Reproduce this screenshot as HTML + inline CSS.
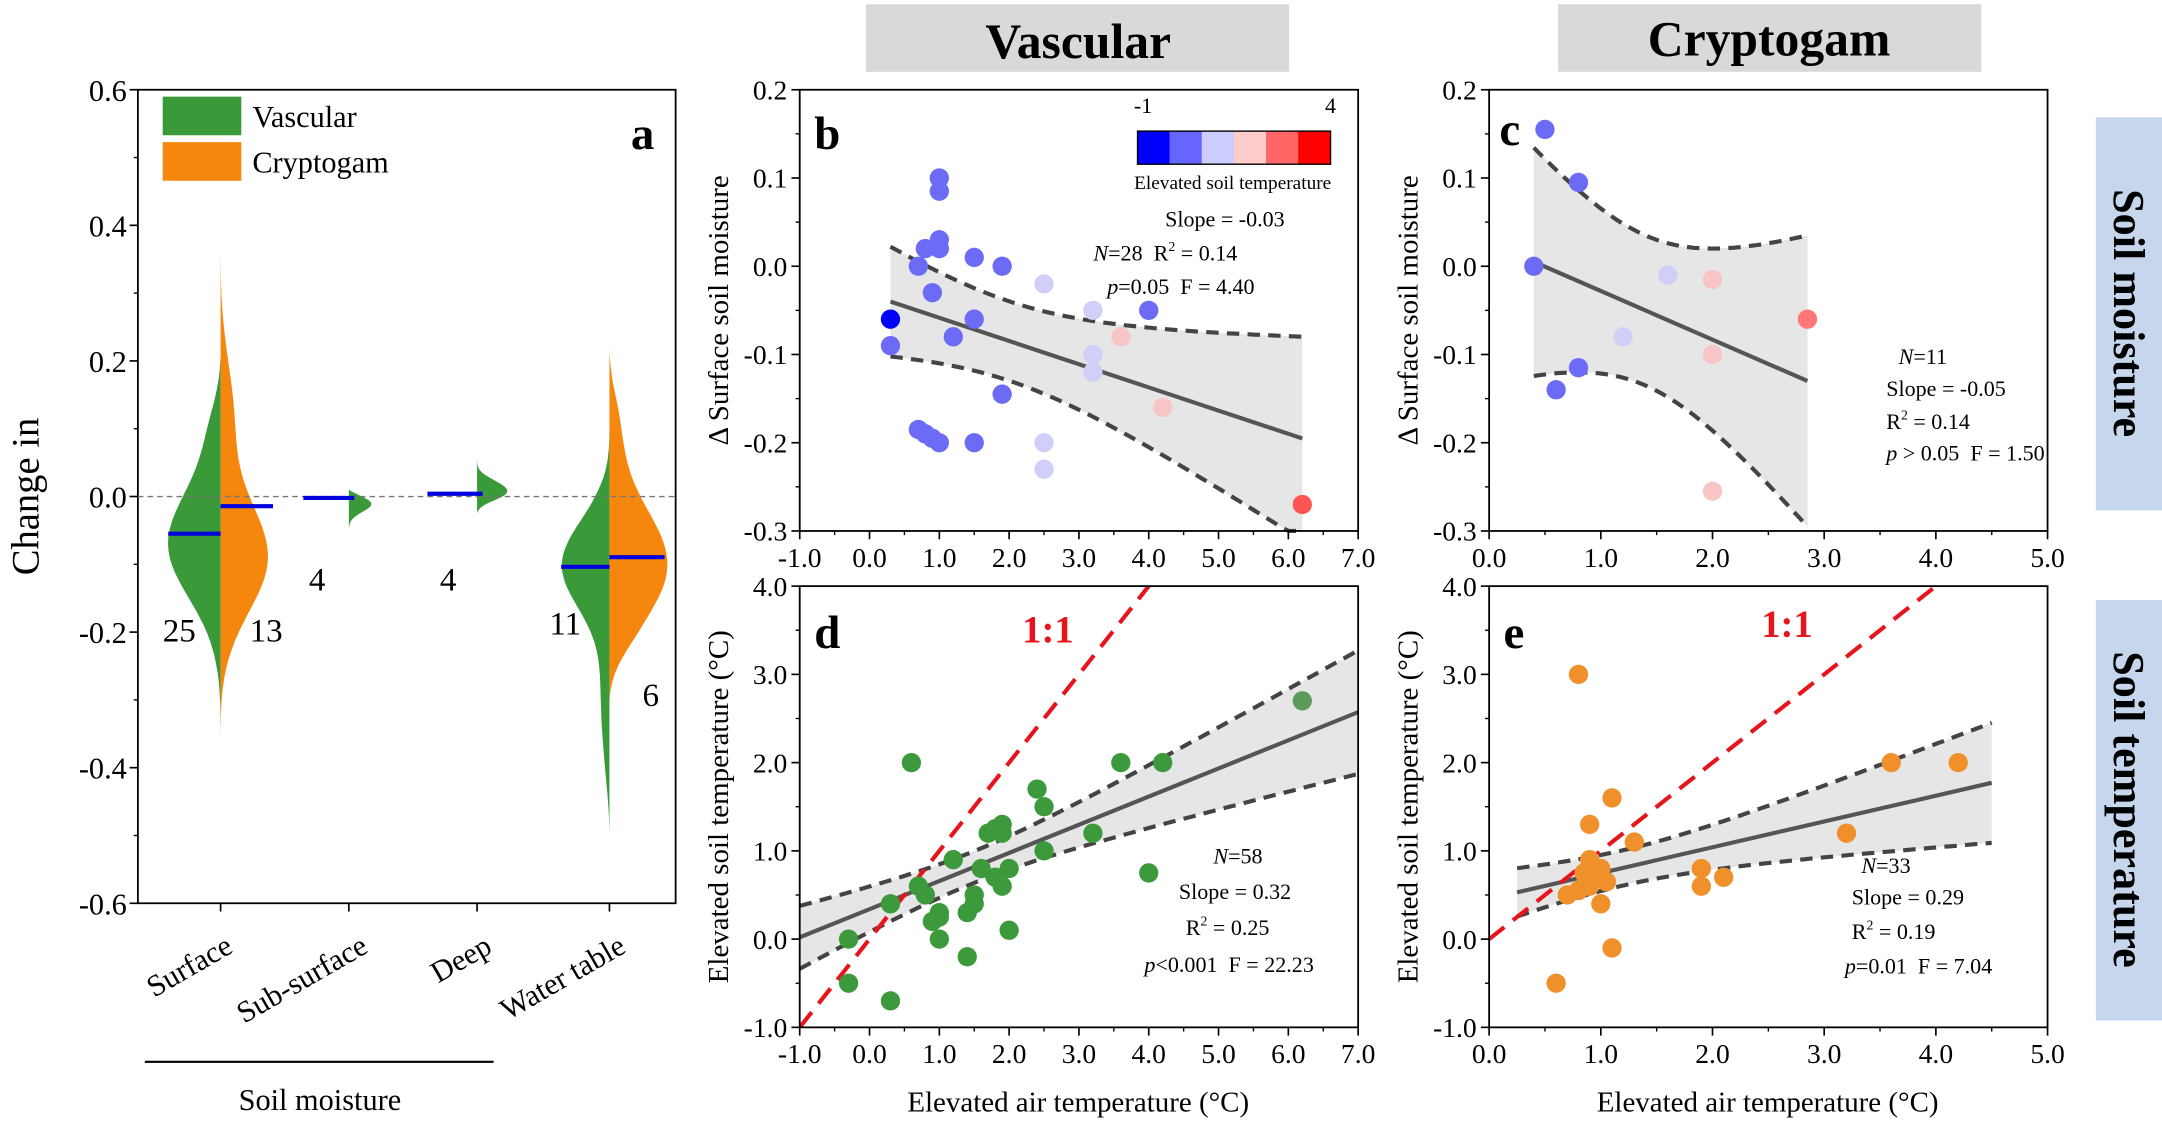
<!DOCTYPE html>
<html><head><meta charset="utf-8"><style>
html,body{margin:0;padding:0;background:#fff;overflow:hidden}
svg{display:block}
text{font-family:"Liberation Serif",serif;fill:#000}
</style></head><body>
<svg id="s" width="2162" height="1124" viewBox="0 0 1568 815" xmlns="http://www.w3.org/2000/svg"></svg>
<script>
const S=document.getElementById('s');let h='';
function T(x,y,t,sz,o){o=o||{};h+=`<text x="${x}" y="${y}" font-size="${sz}" text-anchor="${o.a||'start'}" ${o.b?'font-weight="bold"':''} ${o.i?'font-style="italic"':''} ${o.r!==undefined?`transform="rotate(${o.r} ${x} ${y})"`:''} ${o.c?`style="fill:${o.c}"`:''}>${t}</text>`;}
function L(x1,y1,x2,y2,c,w,d){h+=`<line x1="${x1}" y1="${y1}" x2="${x2}" y2="${y2}" stroke="${c||'#000'}" stroke-width="${w||1}" ${d?`stroke-dasharray="${d}"`:''}/>`;}
h+='<rect x="628" y="3" width="307" height="49" fill="#d9d9d9"/><rect x="1130" y="3" width="307" height="49" fill="#d9d9d9"/>';
T(782,42,'Vascular',36,{a:'middle',b:1});T(1283,40,'Cryptogam',36,{a:'middle',b:1});
h+='<rect x="1520" y="85" width="48" height="285" fill="#c6d6ec"/><rect x="1520" y="435" width="48" height="305" fill="#c6d6ec"/>';
T(1533,227,'Soil moisture',32,{a:'middle',b:1,r:90});T(1533,587,'Soil temperature',32,{a:'middle',b:1,r:90});
const ay=v=>360-v*491.7;
function half(cx,dir,gs,top,bot,col,tp){tp=tp||0.08;let pts=[];for(let v=top;v>=bot-1e-9;v-=0.004){let g=0;gs.forEach(q=>g+=q[2]*Math.exp(-((v-q[0])**2)/(2*q[1]*q[1])));
let t=Math.min(1,(top-v)/tp,(v-bot)/tp);t=Math.max(0,t);t=Math.sin(t*Math.PI/2);pts.push([cx+dir*g*t,ay(v)]);}
let d=`M${cx},${ay(top)} `+pts.map(p=>`L${p[0].toFixed(1)},${p[1].toFixed(1)}`).join(' ')+` L${cx},${ay(bot)}Z`;h+=`<path d="${d}" fill="${col}"/>`;}
const G='#3a9a3a',O='#f5870f';
half(160,-1,[[-0.07,0.08,38],[0.1,0.06,6]],0.21,-0.36,G,0.12);
half(160,1,[[-0.09,0.08,34],[0.12,0.08,9]],0.39,-0.38,O,0.15);
half(253,1,[[-0.005,0.015,20]],0.01,-0.05,G,0.03);
half(346,1,[[0.008,0.015,22]],0.055,-0.025,G,0.03);
half(442,-1,[[-0.1,0.065,34],[-0.3,0.09,6]],0.1,-0.5,G,0.1);
half(442,1,[[-0.1,0.085,42],[0.1,0.06,6]],0.22,-0.3,O,0.1);
h+='<rect x="100" y="65" width="390" height="590" fill="none" stroke="#000" stroke-width="1.3"/>';
L(100,360,490,360,'#777',1,'4,3');
for(let v=-0.6;v<=0.61;v+=0.2){let y=ay(v);L(94,y,100,y,'#000',1.2);T(92,y+8,(Math.abs(v)<1e-9?'0.0':v.toFixed(1)),22,{a:'end'});}
for(let v=-0.5;v<=0.6;v+=0.2)L(97,ay(v),100,ay(v));
[160,253,346,442].forEach(x=>L(x,655,x,661,'#000',1.2));
const B='#0000dd';L(122,387,160,387,B,3);L(160,367,198,367,B,3);L(220,361,257,361,B,3);L(310,358,350,358,B,3);L(407,411,442,411,B,3);L(442,404,482,404,B,3);
T(130,465,'25',24,{a:'middle'});T(193,465,'13',24,{a:'middle'});T(230,428,'4',24,{a:'middle'});T(325,428,'4',24,{a:'middle'});T(410,460,'11',24,{a:'middle'});T(472,512,'6',24,{a:'middle'});
h+=`<rect x="118" y="70" width="57" height="28" fill="${G}"/><rect x="118" y="103" width="57" height="28" fill="${O}"/>`;
T(183,92,'Vascular',22);T(183,125,'Cryptogam',22);T(466,108,'a',34,{a:'middle',b:1});
T(28,360,'Change in',28,{a:'middle',r:-90});
[['Surface',170],['Sub-surface',268],['Deep',358],['Water table',455]].forEach(p=>T(p[1],690,p[0],22,{a:'end',r:-30}));
L(105,770,358,770,'#000',1.5);T(232,805,'Soil moisture',22,{a:'middle'});
function P(x0,xmin,xmax,sx,y0,ymin,ymax,sy,xs,ys){return {x0,xmin,xmax,sx,y0,ymin,ymax,sy,xs,ys,X:v=>x0+(v-xmin)*sx,Y:v=>y0-(v-ymin)*sy};}
const pb=P(580,-1,7,50.625,385,-0.3,0.2,640,1,0.1),pd=P(580,-1,7,50.625,745,-1,4,64,1,1),pc=P(1080,0,5,81,385,-0.3,0.2,640,1,0.1),pe=P(1080,0,5,81,745,-1,4,64,1,1);
function frame(p,xl){const x1=p.X(p.xmax),y1=p.Y(p.ymax);
h+=`<rect x="${p.x0}" y="${y1}" width="${x1-p.x0}" height="${p.y0-y1}" fill="none" stroke="#000" stroke-width="1.3"/>`;
for(let v=p.xmin;v<=p.xmax+1e-9;v+=p.xs){let x=p.X(v);L(x,p.y0,x,p.y0+6,'#000',1.2);if(xl)T(x,p.y0+26,v.toFixed(1),20,{a:'middle'});if(v+p.xs/2<=p.xmax)L(p.X(v+p.xs/2),p.y0,p.X(v+p.xs/2),p.y0+3);}
for(let v=p.ymin;v<=p.ymax+1e-9;v+=p.ys){let y=p.Y(v);L(p.x0-6,y,p.x0,y,'#000',1.2);T(p.x0-9,y+7,(Math.abs(v)<1e-9?'0.0':v.toFixed(1)),20,{a:'end'});if(v+p.ys/2<=p.ymax)L(p.x0-3,p.Y(v+p.ys/2),p.x0,p.Y(v+p.ys/2));}}
function reg(p,xa,xb,f,hw){let up=[],lo=[];for(let x=xa;x<=xb+1e-9;x+=(xb-xa)/60){up.push([p.X(x),p.Y(f(x)+hw(x))]);lo.push([p.X(x),p.Y(f(x)-hw(x))]);}
const c=v=>Math.max(p.Y(p.ymax),Math.min(p.y0,v));
h+=`<path d="M${up.map(q=>q[0].toFixed(1)+','+c(q[1]).toFixed(1)).join(' L')} L${lo.reverse().map(q=>q[0].toFixed(1)+','+c(q[1]).toFixed(1)).join(' L')}Z" fill="#e6e6e6"/>`;
lo.reverse();
h+=`<polyline points="${up.map(q=>q[0].toFixed(1)+','+c(q[1]).toFixed(1)).join(' ')}" fill="none" stroke="#444" stroke-width="3" stroke-dasharray="9,6"/>`;
h+=`<polyline points="${lo.map(q=>q[0].toFixed(1)+','+c(q[1]).toFixed(1)).join(' ')}" fill="none" stroke="#444" stroke-width="3" stroke-dasharray="9,6"/>`;
L(p.X(xa),p.Y(f(xa)),p.X(xb),p.Y(f(xb)),'#555',3);}
function pts(p,arr,def){arr.forEach(a=>h+=`<circle cx="${p.X(a[0])}" cy="${p.Y(a[1])}" r="7" fill="${a[2]||def}"/>`);}
reg(pb,0.3,6.2,x=>-0.04-(x-0.3)*0.0263,x=>Math.sqrt(0.045**2+0.00064*(x-2)**2));
const bl='#6b6bf5',lb='#cfcff7',pk='#f7c5c5';
pts(pb,[[0.3,-0.06,'#0000ff'],[0.3,-0.09],[0.7,0],[0.8,0.02],[0.9,-0.03],[1,0.1],[1,0.085],[1,0.03],[1,0.02],[1.5,0.01],[1.9,0],[1.2,-0.08],[1.5,-0.06],[0.7,-0.185],[0.8,-0.19],[0.9,-0.195],[1,-0.2],[1.5,-0.2],[1.9,-0.145],[2.5,-0.02,lb],[2.5,-0.2,lb],[2.5,-0.23,lb],[3.2,-0.05,lb],[3.2,-0.1,lb],[3.2,-0.12,lb],[3.6,-0.08,pk],[4.0,-0.05],[4.2,-0.16,pk],[6.2,-0.27,'#f55']],bl);
frame(pb,1);
['#0000ff','#6666ff','#ccccff','#ffcccc','#ff6666','#ff0000'].forEach((c,i)=>h+=`<rect x="${825+i*23.3}" y="95" width="23.4" height="24" fill="${c}"/>`);
h+='<rect x="825" y="95" width="140" height="24" fill="none" stroke="#000"/>';
T(829,82,'-1',16,{a:'middle'});T(965,82,'4',16,{a:'middle'});T(894,137,'Elevated soil temperature',14,{a:'middle'});
T(845,164,'Slope = -0.03',16);h+='<text x="793" y="189" font-size="16"><tspan font-style="italic">N</tspan>=28&#160; R<tspan font-size="10" dy="-7">2</tspan><tspan dy="7"> = 0.14</tspan></text>';
h+='<text x="803" y="213" font-size="16"><tspan font-style="italic">p</tspan>=0.05&#160; F = 4.40</text>';
T(600,108,'b',34,{a:'middle',b:1});
T(528,225,'Δ Surface soil moisture',21,{a:'middle',r:-90});
reg(pc,0.4,2.85,x=>0.005-(x-0.4)*0.0551,x=>Math.sqrt(0.085**2+0.0095*(x-1.4)**2));
pts(pc,[[0.5,0.155],[0.8,0.095],[0.4,0],[0.8,-0.115],[0.6,-0.14],[1.2,-0.08,lb],[1.6,-0.01,lb],[2.0,-0.015,pk],[2.0,-0.1,pk],[2.0,-0.255,pk],[2.85,-0.06,'#f77']],bl);
frame(pc,1);
T(1095,105,'c',34,{a:'middle',b:1});
h+='<text x="1377" y="264" font-size="16"><tspan font-style="italic">N</tspan>=11</text>';T(1368,287,'Slope = -0.05',16);
h+='<text x="1368" y="311" font-size="16">R<tspan font-size="10" dy="-7">2</tspan><tspan dy="7"> = 0.14</tspan></text>';
h+='<text x="1368" y="334" font-size="16"><tspan font-style="italic">p</tspan> &gt; 0.05&#160; F = 1.50</text>';
T(1028,225,'Δ Surface soil moisture',21,{a:'middle',r:-90});
h+=`<clipPath id="cd"><rect x="580" y="425" width="405" height="320"/></clipPath>`;
reg(pd,-1,7,x=>0.02+(x+1)*0.319,x=>Math.sqrt(0.0324+0.0151*(x-1.5)**2));
h+=`<line clip-path="url(#cd)" x1="${pd.X(-1)}" y1="${pd.Y(-1)}" x2="${pd.X(4)}" y2="${pd.Y(4)}" stroke="#e8141c" stroke-width="3" stroke-dasharray="14,8"/>`;
pts(pd,[[-0.3,0],[-0.3,-0.5],[0.3,0.4],[0.3,-0.7],[0.6,2.0],[0.8,0.5],[0.9,0.2],[1,0.3],[1,0.25],[1,0],[1.2,0.9],[1.4,-0.2],[1.4,0.3],[1.5,0.5],[1.6,0.8],[1.7,1.2],[1.8,1.25],[1.9,1.2],[1.9,1.3],[1.9,0.6],[2,0.1],[2,0.8],[2.4,1.7],[2.5,1.5],[2.5,1.0],[3.2,1.2],[3.6,2.0],[4.0,0.75],[4.2,2.0],[6.2,2.7,'#5c9a5c'],[0.7,0.6],[1.5,0.4],[1.8,0.7]],'#3c9a3c');
frame(pd,1);
T(600,470,'d',34,{a:'middle',b:1});T(760,466,'1:1',28,{a:'middle',b:1,c:'#e8141c'});
h+='<text x="880" y="626" font-size="16"><tspan font-style="italic">N</tspan>=58</text>';T(855,652,'Slope = 0.32',16);
h+='<text x="860" y="678" font-size="16">R<tspan font-size="10" dy="-7">2</tspan><tspan dy="7"> = 0.25</tspan></text>';
h+='<text x="830" y="705" font-size="16"><tspan font-style="italic">p</tspan>&lt;0.001&#160; F = 22.23</text>';
T(528,585,'Elevated soil temperature (°C)',21,{a:'middle',r:-90});T(782,806,'Elevated air temperature (°C)',21,{a:'middle'});
h+=`<clipPath id="ce"><rect x="1080" y="425" width="405" height="320"/></clipPath>`;
reg(pe,0.25,4.5,x=>0.53+(x-0.25)*0.292,x=>Math.sqrt(0.04+0.0388*(x-1.2)**2));
h+=`<line clip-path="url(#ce)" x1="${pe.X(0)}" y1="${pe.Y(0)}" x2="${pe.X(4)}" y2="${pe.Y(4)}" stroke="#e8141c" stroke-width="3" stroke-dasharray="14,8"/>`;
pts(pe,[[0.6,-0.5],[0.7,0.5],[0.8,3.0],[0.8,0.55],[0.9,1.3],[0.9,0.9],[0.9,0.6],[1.0,0.7],[1.0,0.4],[1.0,0.8],[1.1,1.6],[1.1,-0.1],[1.3,1.1],[1.9,0.8],[1.9,0.6],[2.1,0.7],[3.2,1.2],[3.6,2.0],[4.2,2.0],[0.85,0.75],[1.05,0.65]],'#f0902a');
frame(pe,1);
T(1098,470,'e',34,{a:'middle',b:1});T(1296,462,'1:1',28,{a:'middle',b:1,c:'#e8141c'});
h+='<text x="1350" y="633" font-size="16"><tspan font-style="italic">N</tspan>=33</text>';T(1343,656,'Slope = 0.29',16);
h+='<text x="1343" y="681" font-size="16">R<tspan font-size="10" dy="-7">2</tspan><tspan dy="7"> = 0.19</tspan></text>';
h+='<text x="1338" y="706" font-size="16"><tspan font-style="italic">p</tspan>=0.01&#160; F = 7.04</text>';
T(1028,585,'Elevated soil temperature (°C)',21,{a:'middle',r:-90});T(1282,806,'Elevated air temperature (°C)',21,{a:'middle'});
S.innerHTML=h;
</script>
</body></html>
